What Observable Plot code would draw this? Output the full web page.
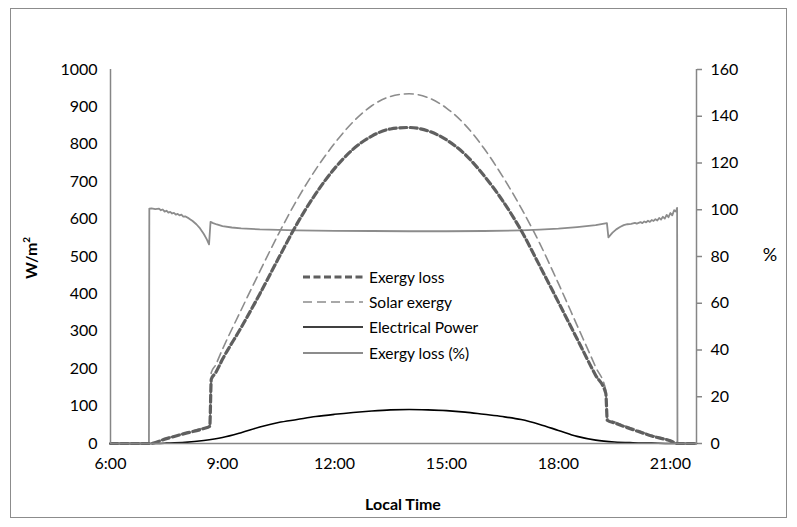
<!DOCTYPE html>
<html><head><meta charset="utf-8">
<script src="https://cdn.jsdelivr.net/npm/d3@7"></script>
<script src="https://cdn.jsdelivr.net/npm/@observablehq/plot@0.6"></script>
<style>
body{margin:0;background:#fff;font-family:Lato,"Open Sans",sans-serif;}
#wrap{position:relative;width:797px;height:527px;overflow:hidden;background:#fff;}
#frame{position:absolute;left:10px;top:8px;width:777px;height:510px;border:1px solid #8c8c8c;box-sizing:border-box;}
#chart{position:absolute;left:0;top:0;}
.ttl{position:absolute;font-weight:bold;font-size:16px;color:#000;white-space:nowrap;}
#ylab{left:30px;top:258px;transform:translate(-50%,-50%) rotate(-90deg);}
#y2lab{left:770px;top:254px;transform:translate(-50%,-50%);font-weight:normal;font-size:18px;}
#xlab{left:403px;top:503px;transform:translate(-50%,-50%);}
#legend{position:absolute;left:303px;top:264px;font-size:15.5px;color:#000;}
#legend .row{display:flex;align-items:center;height:25.3px;}
#legend svg{margin-right:6px;}
</style>
</head><body>
<div id="wrap">
  <div id="frame"></div>
  <div id="chart"></div>
  <div class="ttl" id="ylab">W/m<sup style="font-size:10px">2</sup></div>
  <div class="ttl" id="y2lab">%</div>
  <div class="ttl" id="xlab">Local Time</div>
  <div id="legend"></div>
</div>
<script>
// ---- data (time in decimal hours) ----
const xTicks = [6, 9, 12, 15, 18, 21];
const xTickLabels = ["6:00", "9:00", "12:00", "15:00", "18:00", "21:00"];
const wTicks = [0, 100, 200, 300, 400, 500, 600, 700, 800, 900, 1000];
const pctTicks = [0, 20, 40, 60, 80, 100, 120, 140, 160];

const solarTime  = [6, 7.04, 7.5, 8, 8.5, 8.66, 8.7, 8.81, 9, 9.5, 10, 10.5, 11, 11.5, 12, 12.5, 13, 13.5, 14, 14.5, 15, 15.5, 16, 16.5, 17, 17.5, 18, 18.5, 19, 19.27, 19.31, 19.5, 20, 20.5, 21, 21.19, 21.7];
const solarValue = [0, 0, 14, 28, 42, 48, 190, 209, 252, 357, 460, 560, 652, 733, 802, 860, 903, 928, 935, 925, 897, 852, 790, 715, 630, 535, 428, 316, 204, 142, 67, 58, 40, 22, 8, 0, 0];

const lossTime  = [6, 7.04, 7.5, 8, 8.5, 8.66, 8.7, 8.81, 9, 9.5, 10, 10.5, 11, 11.5, 12, 12.5, 13, 13.5, 14, 14.5, 15, 15.5, 16, 16.5, 17, 17.5, 18, 18.5, 19, 19.27, 19.31, 19.5, 20, 20.5, 21, 21.19, 21.7];
const lossValue = [0, 0, 13, 27, 40, 46, 172, 188, 225, 310, 400, 495, 588, 668, 735, 787, 822, 841, 845, 836, 812, 773, 717, 650, 570, 475, 378, 280, 182, 134, 62, 55, 37, 20, 7, 0, 0];

const powerTime  = [6, 7.04, 7.5, 8, 8.5, 9, 9.5, 10, 10.5, 11, 11.5, 12, 12.5, 13, 13.5, 14, 14.5, 15, 15.5, 16, 16.5, 17, 17.5, 18, 18.5, 19, 19.5, 20, 20.5, 21, 21.7];
const powerValue = [0, 0, 1, 3, 8, 16, 29, 44, 56, 64, 72, 78, 83, 87, 90, 91, 90, 88, 84, 78, 72, 64, 51, 35, 19, 9, 4, 2, 1, 0, 0];

const pctTime  = [6, 7.03, 7.04, 7.1, 7.2, 7.3, 7.35, 7.4, 7.45, 7.5, 7.55, 7.6, 7.65, 7.7, 7.75, 7.8, 7.85, 7.9, 7.95, 8.0, 8.1, 8.2, 8.3, 8.4, 8.5, 8.58, 8.64, 8.68, 8.75, 8.85, 9.0, 9.25, 9.5, 10, 10.5, 11, 12, 13, 14, 15, 16, 17, 17.5, 18, 18.5, 19, 19.3, 19.34, 19.45, 19.55, 19.65, 19.75, 19.85, 19.95, 20.05, 20.1, 20.2, 20.25, 20.3, 20.35, 20.4, 20.45, 20.5, 20.55, 20.6, 20.65, 20.7, 20.75, 20.8, 20.85, 20.9, 20.95, 21.0, 21.05, 21.1, 21.15, 21.18, 21.19, 21.7];
const pctValue = [0, 0, 100.5, 100.6, 100.3, 100.5, 99.8, 100.1, 99.2, 99.6, 98.8, 99.1, 98.4, 98.7, 97.9, 98.2, 97.6, 97.9, 97.1, 97.2, 96.3, 95.2, 93.8, 92.0, 89.6, 87.3, 85.2, 94.8, 94.3, 93.7, 93.0, 92.4, 92.0, 91.6, 91.4, 91.2, 91.0, 90.9, 90.8, 90.8, 90.9, 91.2, 91.5, 91.9, 92.6, 93.4, 94.3, 88.2, 90.2, 91.6, 92.6, 93.4, 93.8, 94.0, 94.4, 94.1, 94.7, 94.3, 95.0, 94.6, 95.3, 94.8, 95.6, 95.2, 96.0, 95.4, 96.5, 95.8, 97.0, 96.2, 97.8, 96.8, 98.6, 97.6, 99.8, 99.2, 100.8, 0, 0];

// ---- build tables ----
const zip = (t, v) => t.map((x, i) => ({t: x, v: v[i]}));
const solar = zip(solarTime, solarValue);
const loss = zip(lossTime, lossValue);
const power = zip(powerTime, powerValue);
const pct = zip(pctTime, pctValue);

const yMax = 1000, pctMax = 160;
const k = yMax / pctMax; // secondary axis mapping
const axisColor = "#868686";

const styles = {
  loss:  {stroke: "#5f5f5f", strokeWidth: 3.2, strokeDasharray: "7,3.5"},
  solar: {stroke: "#8c8c8c", strokeWidth: 1.6, strokeDasharray: "9,5"},
  power: {stroke: "#000000", strokeWidth: 1.6},
  pct:   {stroke: "#8c8c8c", strokeWidth: 1.8}
};

const chart = Plot.plot({
  width: 797, height: 527,
  marginLeft: 110, marginRight: 101, marginTop: 69, marginBottom: 84,
  style: {fontFamily: "Lato, 'Open Sans', sans-serif", fontSize: "16px", color: "#000", background: "transparent", overflow: "visible"},
  x: {domain: [6, 21.7]},
  y: {domain: [0, yMax]},
  marks: [
    Plot.axisX(xTicks, {tickSize: 0, tickPadding: 14, tickFormat: d => xTickLabels[xTicks.indexOf(d)], label: null, fill: "#000"}),
    Plot.axisY(wTicks, {tickSize: 0, tickPadding: 13, tickFormat: d => String(d), label: null, fill: "#000"}),
    Plot.axisY(pctTicks.map(p => p * k), {anchor: "right", tickSize: 5, tickPadding: 9, tickFormat: d => String(Math.round(d / k)), label: null, stroke: axisColor, fill: "#000", strokeWidth: 1.5}),
    Plot.line(pct, {x: "t", y: d => d.v * k, ...styles.pct}),
    Plot.line(power, {x: "t", y: "v", curve: "monotone-x", ...styles.power}),
    Plot.line(solar, {x: "t", y: "v", curve: "monotone-x", ...styles.solar}),
    Plot.line(loss, {x: "t", y: "v", curve: "monotone-x", ...styles.loss}),
    Plot.ruleY([0], {stroke: axisColor, strokeWidth: 1.5}),
    Plot.ruleX([6, 21.7], {stroke: axisColor, strokeWidth: 1.5})
  ]
});
document.getElementById("chart").appendChild(chart);

// ---- legend ----
const legendItems = [
  {label: "Exergy loss", s: styles.loss},
  {label: "Solar exergy", s: styles.solar},
  {label: "Electrical Power", s: styles.power},
  {label: "Exergy loss (%)", s: styles.pct}
];
const leg = document.getElementById("legend");
for (const it of legendItems) {
  const row = document.createElement("div");
  row.className = "row";
  row.innerHTML = `<svg width="60" height="10"><line x1="0" y1="5" x2="60" y2="5" stroke="${it.s.stroke}" stroke-width="${it.s.strokeWidth}" ${it.s.strokeDasharray ? `stroke-dasharray="${it.s.strokeDasharray}"` : ""}/></svg><span>${it.label}</span>`;
  leg.appendChild(row);
}
</script>
</body></html>
